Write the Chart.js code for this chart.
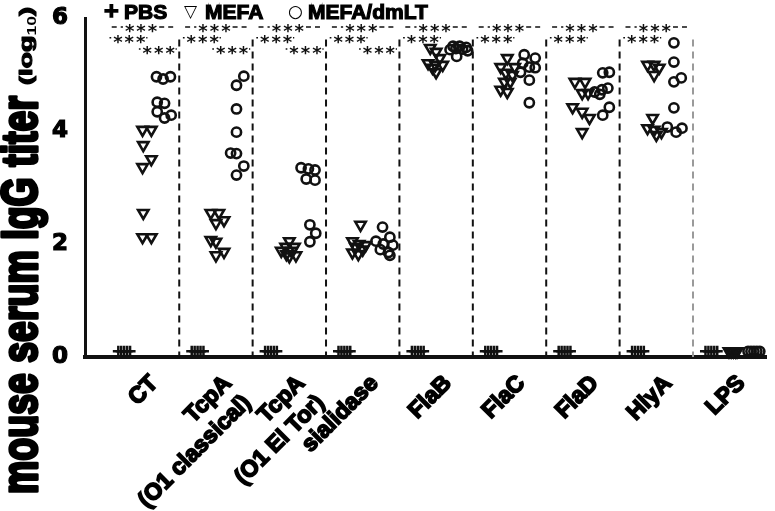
<!DOCTYPE html>
<html>
<head>
<meta charset="utf-8">
<script src="https://cdn.jsdelivr.net/npm/chart.js@4.4.0/dist/chart.umd.min.js"></script>
<style>
  html, body { margin: 0; padding: 0; background: #fff; }
  #wrap { width: 775px; height: 511px; position: relative; }
</style>
</head>
<body>
<div id="wrap"><canvas id="chart"></canvas></div>
<script>
const categories = ['CT', ['TcpA', '(O1 classical)'], ['TcpA', '(O1 El Tor)'], 'sialidase', 'FlaB', 'FlaC', 'FlaD', 'HlyA', 'LPS'];
const groups = ['PBS', 'MEFA', 'MEFA/dmLT'];
const yTicks = [0, 2, 4, 6];

// log10 IgG titers, one value per mouse
const pbsTiter = [
  [0.1, 0.1, 0.1, 0.1, 0.1],
  [0.1, 0.1, 0.1, 0.1, 0.1],
  [0.1, 0.1, 0.1, 0.1, 0.1],
  [0.1, 0.1, 0.1, 0.1, 0.1],
  [0.1, 0.1, 0.1, 0.1, 0.1],
  [0.1, 0.1, 0.1, 0.1, 0.1],
  [0.1, 0.1, 0.1, 0.1, 0.1],
  [0.1, 0.1, 0.1, 0.1, 0.1],
  [0.1, 0.1, 0.1, 0.1, 0.1]
];
const mefaTiter = [
  [4.02, 4.02, 3.75, 3.5, 3.36, 2.55, 2.12, 2.12],
  [2.55, 2.55, 2.42, 2.37, 2.07, 2.04, 1.86, 1.8],
  [2.05, 1.95, 1.95, 1.88, 1.88, 1.82, 1.8, 1.78],
  [2.34, 2.05, 2.0, 1.98, 1.95, 1.9, 1.85, 1.82],
  [5.47, 5.4, 5.29, 5.2, 5.17, 5.17, 5.12, 5.04],
  [5.29, 5.13, 5.13, 5.03, 4.99, 4.87, 4.87, 4.73, 4.69],
  [4.87, 4.87, 4.67, 4.67, 4.42, 4.34, 4.23, 3.98],
  [5.17, 5.17, 5.12, 4.99, 4.23, 4.05, 4.02, 3.98, 3.93],
  [0.1, 0.1, 0.1, 0.1, 0.1]
];
const dmltTiter = [
  [4.96, 4.92, 4.96, 4.51, 4.49, 4.34, 4.23, 4.28],
  [4.97, 4.81, 4.39, 3.98, 3.61, 3.6, 3.38, 3.22],
  [3.35, 3.33, 3.31, 3.15, 3.13, 2.34, 2.19, 2.04],
  [2.3, 2.12, 2.05, 2.0, 1.98, 1.9, 1.85, 1.8],
  [5.5, 5.5, 5.48, 5.46, 5.45, 5.44, 5.42, 5.32],
  [5.35, 5.29, 5.2, 5.13, 5.12, 5.04, 4.9, 4.5],
  [5.03, 5.04, 4.69, 4.73, 4.76, 4.65, 4.42, 4.28],
  [5.56, 5.22, 4.87, 4.94, 4.41, 4.07, 3.98, 4.05],
  [0.1, 0.1, 0.1, 0.1, 0.1]
];

// horizontal scatter of each dot inside its category (x units)
const pbsJitter = [-0.33, -0.29, -0.25, -0.21, -0.17];
const mefaJitter = [
  [0, 0.12, 0.01, 0.12, 0, 0.01, 0, 0.12],
  [-0.07, 0.04, 0.11, 0, -0.07, 0, 0.11, 0],
  [0, -0.05, 0.07, -0.11, 0.03, -0.04, 0.09, 0],
  [-0.03, -0.14, -0.05, 0.04, -0.1, 0, -0.14, -0.06],
  [-0.08, 0, 0.05, -0.11, -0.01, 0.09, -0.05, 0],
  [-0.03, -0.12, 0.07, -0.05, 0.04, -0.07, 0.01, -0.12, -0.03],
  [-0.11, 0.03, -0.01, 0.07, -0.14, -0.01, 0.09, -0.01],
  [-0.12, -0.03, 0.04, -0.03, -0.05, -0.12, -0.03, 0.07, 0],
  [-0.01, 0.02, 0.05, 0.08, 0.1]
];
const dmltJitter = [
  [0.19, 0.28, 0.38, 0.2, 0.3, 0.2, 0.3, 0.39],
  [0.38, 0.28, 0.28, 0.28, 0.2, 0.28, 0.38, 0.28],
  [0.16, 0.26, 0.35, 0.23, 0.35, 0.28, 0.36, 0.28],
  [0.27, 0.37, 0.18, 0.28, 0.41, 0.24, 0.35, 0.37],
  [0.23, 0.32, 0.41, 0.27, 0.36, 0.19, 0.43, 0.28],
  [0.2, 0.35, 0.18, 0.27, 0.35, 0.15, 0.27, 0.27],
  [0.27, 0.36, 0.16, 0.26, 0.34, 0.23, 0.36, 0.27],
  [0.24, 0.24, 0.24, 0.34, 0.24, 0.15, 0.27, 0.35],
  [0.25, 0.29, 0.33, 0.37, 0.41]
];

// significance marks per category
const sigPbsVsDmlt = ['***', '***', '***', '***', '***', '***', '***', '***', ''];
const sigPbsVsMefa = ['***', '***', '***', '***', '***', '***', '***', '***', ''];
const sigMefaVsDmlt = ['***', '***', '***', '***', '', '', '', '', ''];

function toPoints(values, jitter) {
  const pts = [];
  values.forEach((row, i) => {
    row.forEach((v, j) => {
      const dx = Array.isArray(jitter[0]) ? jitter[i][j] : jitter[j];
      pts.push({ x: i + dx, y: v });
    });
  });
  return pts;
}

const sepPlugin = {
  id: 'separators',
  beforeDatasetsDraw(chart) {
    const { ctx, scales: { x, y } } = chart;
    ctx.save();
    ctx.lineWidth = 2;
    ctx.setLineDash([7, 5]);
    for (let i = 0; i < categories.length - 1; i++) {
      const px = x.getPixelForValue(i + 0.5);
      ctx.strokeStyle = i === categories.length - 2 ? '#9a9a9a' : '#111';
      ctx.beginPath();
      ctx.moveTo(px, y.getPixelForValue(5.62));
      ctx.lineTo(px, y.getPixelForValue(0));
      ctx.stroke();
    }
    ctx.restore();
  }
};

const sigPlugin = {
  id: 'significance',
  afterDatasetsDraw(chart) {
    const { ctx, scales: { x, y } } = chart;
    const rows = [
      { marks: sigPbsVsDmlt, yv: 5.84, from: -0.42, to: 0.42, at: -0.02 },
      { marks: sigPbsVsMefa, yv: 5.65, from: -0.45, to: 0.05, at: -0.18 },
      { marks: sigMefaVsDmlt, yv: 5.45, from: -0.05, to: 0.45, at: 0.22 }
    ];
    ctx.save();
    ctx.font = 'bold 18px "DejaVu Sans"';
    ctx.letterSpacing = '2px';
    ctx.textAlign = 'center';
    ctx.textBaseline = 'alphabetic';
    ctx.fillStyle = '#111';
    ctx.strokeStyle = '#111';
    ctx.lineWidth = 1.5;
    rows.forEach(r => {
      r.marks.forEach((m, i) => {
        if (!m) return;
        const py = y.getPixelForValue(r.yv);
        const x1 = x.getPixelForValue(i + r.from);
        const x2 = x.getPixelForValue(i + r.to);
        const cx = x.getPixelForValue(i + r.at);
        const w = ctx.measureText(m).width;
        ctx.setLineDash([5, 4]);
        ctx.beginPath();
        ctx.moveTo(x1, py);
        ctx.lineTo(cx - w / 2 - 1, py);
        ctx.moveTo(cx + w / 2 + 1, py);
        ctx.lineTo(x2, py);
        ctx.stroke();
        ctx.setLineDash([]);
        ctx.fillText(m, cx + 1, py + 10);
      });
    });
    ctx.restore();
  }
};

const titlePlugin = {
  id: 'yTitle',
  afterDraw(chart) {
    const ctx = chart.ctx;
    const main = 'mouse serum IgG titer';
    ctx.save();
    ctx.fillStyle = '#000';
    ctx.strokeStyle = '#000';
    ctx.lineJoin = 'round';
    ctx.translate(38, 495);
    ctx.rotate(-Math.PI / 2);
    ctx.font = 'bold 38px "Liberation Sans"';
    const mw = ctx.measureText(main).width;
    ctx.save();
    ctx.scale(398 / mw, 1.3);
    ctx.lineWidth = 2.6;
    ctx.strokeText(main, 1, -1);
    ctx.fillText(main, 1, -1);
    ctx.restore();
    // (log10) with subscript
    ctx.translate(410, -6);
    ctx.font = 'bold 17px "Liberation Sans"';
    const a = ctx.measureText('(log').width;
    const c = ctx.measureText(')').width;
    ctx.font = 'bold 11px "Liberation Sans"';
    const b = ctx.measureText('10').width;
    const sx = 78 / (a + b + c);
    ctx.scale(sx, 1.1);
    ctx.lineWidth = 1;
    ctx.font = 'bold 17px "Liberation Sans"';
    ctx.strokeText('(log', 0, 0);
    ctx.fillText('(log', 0, 0);
    ctx.font = 'bold 11px "Liberation Sans"';
    ctx.fillText('10', a, 4);
    ctx.font = 'bold 17px "Liberation Sans"';
    ctx.strokeText(')', a + b, 0);
    ctx.fillText(')', a + b, 0);
    ctx.restore();
  }
};

const legendPlugin = {
  id: 'topLegend',
  afterDraw(chart) {
    const ctx = chart.ctx;
    const markers = ['+', '\u25BD', '\u25CB'];
    const markerX = [103, 184, 288];
    const textX = [124, 205, 308];
    ctx.save();
    ctx.fillStyle = '#000';
    ctx.strokeStyle = '#000';
    ctx.textBaseline = 'middle';
    groups.forEach((g, i) => {
      ctx.font = i === 0 ? 'bold 20px "DejaVu Sans"' : '17px "DejaVu Sans"';
      ctx.lineWidth = 1.5;
      if (i === 0) ctx.strokeText(markers[i], markerX[i], 12);
      ctx.fillText(markers[i], markerX[i], i === 0 ? 12 : 13);
      ctx.font = 'bold 21px "Liberation Sans"';
      ctx.lineWidth = 1.2;
      ctx.strokeText(g, textX[i], 13);
      ctx.fillText(g, textX[i], 13);
    });
    ctx.restore();
  }
};

new Chart(document.getElementById('chart'), {
  type: 'scatter',
  data: {
    datasets: [
      {
        label: groups[0],
        data: toPoints(pbsTiter, pbsJitter),
        pointStyle: 'cross',
        radius: 5.5,
        borderWidth: 2.5,
        borderColor: '#111',
        backgroundColor: 'rgba(0,0,0,0)'
      },
      {
        label: groups[1],
        data: toPoints(mefaTiter, mefaJitter),
        pointStyle: 'triangle',
        rotation: 180,
        radius: 6,
        borderWidth: 2.6,
        borderColor: '#111',
        backgroundColor: 'rgba(0,0,0,0)'
      },
      {
        label: groups[2],
        data: toPoints(dmltTiter, dmltJitter),
        pointStyle: 'circle',
        radius: 4.6,
        borderWidth: 2.6,
        borderColor: '#111',
        backgroundColor: 'rgba(0,0,0,0)'
      }
    ]
  },
  options: {
    responsive: true,
    maintainAspectRatio: false,
    animation: false,
    clip: false,
    layout: { padding: { top: 18, right: 4, bottom: 0, left: 0 } },
    plugins: {
      legend: { display: false },
      tooltip: { enabled: false }
    },
    scales: {
      x: {
        type: 'linear',
        min: -0.784,
        max: 8.5,
        grid: { display: false, drawTicks: false },
        border: { display: true, color: '#111', width: 4 },
        afterBuildTicks: (axis) => { axis.ticks = categories.map((c, i) => ({ value: i })); },
        afterFit: (scale) => { scale.height = 154; scale.paddingLeft = 0; scale.paddingRight = 0; },
        ticks: {
          autoSkip: false,
          maxRotation: 45,
          minRotation: 45,
          padding: 13,
          labelOffset: 12,
          color: '#000',
          textStrokeColor: '#000',
          textStrokeWidth: 1.7,
          font: { family: 'Liberation Sans', weight: 'bold', size: 23 },
          callback: (v) => categories[v]
        }
      },
      y: {
        min: 0,
        max: 6,
        grid: { display: false, drawTicks: false },
        border: { display: true, color: '#111', width: 3 },
        afterBuildTicks: (axis) => { axis.ticks = yTicks.map(v => ({ value: v })); },
        afterFit: (scale) => { scale.width = 85; scale.paddingTop = 0; scale.paddingBottom = 0; },
        ticks: {
          padding: 17,
          color: '#000',
          textStrokeColor: '#000',
          textStrokeWidth: 1.2,
          font: { family: 'DejaVu Sans', weight: 'bold', size: 23 }
        }
      }
    }
  },
  plugins: [sepPlugin, sigPlugin, titlePlugin, legendPlugin]
});
</script>
</body>
</html>
